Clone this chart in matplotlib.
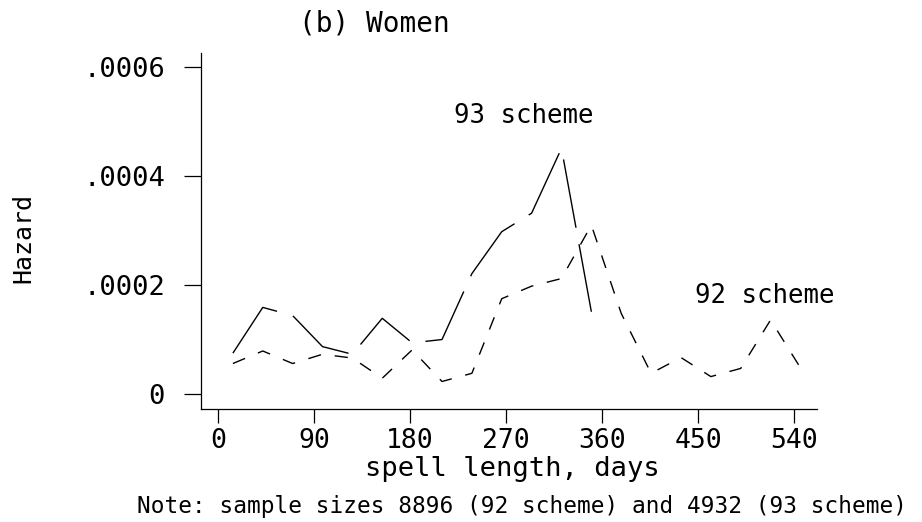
import numpy as np
import matplotlib
matplotlib.use('Agg')
from matplotlib import pyplot as plt
from matplotlib.ticker import FixedLocator, FixedFormatter

# hazard by spell length (days), 4-week intervals
days93 = [14, 42, 70, 98, 126, 154, 182, 210, 238, 266, 294, 322, 350]
hazard93 = [0.000075, 0.000159, 0.000144, 0.000087, 0.000073, 0.000139, 0.000094,
            0.000100, 0.000221, 0.000298, 0.000332, 0.000451, 0.000151]

days92 = [14, 42, 70, 98, 126, 154, 182, 210, 238, 266, 294, 322, 350,
          378, 406, 434, 462, 490, 518, 546]
hazard92 = [0.000056, 0.000079, 0.000056, 0.000073, 0.000066, 0.000029, 0.000081,
            0.000023, 0.000038, 0.000175, 0.000198, 0.000212, 0.000310,
            0.000148, 0.000038, 0.000067, 0.000032, 0.000047, 0.000136, 0.000048]

xticks = [0, 90, 180, 270, 360, 450, 540]
yticks = [0, 0.0002, 0.0004, 0.0006]
ytick_labels = ['0', '.0002', '.0004', '.0006']

plt.rcParams['font.family'] = 'DejaVu Sans Mono'

fig = plt.figure(figsize=(9.22, 5.22), dpi=100)
ax = fig.add_axes([201/922, 1-409/522, 616/922, 356/522])

ax.plot(days93, hazard93, color='black', lw=1.0, linestyle=(0, (50, 12)))
ax.plot(days92, hazard92, color='black', lw=1.0, linestyle=(0, (9.5, 10)))

ax.set_xlim(-15.9, 561.5)
ax.set_ylim(-0.0000275, 0.000626)

ax.spines['top'].set_visible(False)
ax.spines['right'].set_visible(False)
for s in ['left', 'bottom']:
    ax.spines[s].set_linewidth(0.9)

ax.xaxis.set_major_locator(FixedLocator(xticks))
ax.yaxis.set_major_locator(FixedLocator(yticks))
ax.yaxis.set_major_formatter(FixedFormatter(ytick_labels))
ax.tick_params(axis='y', direction='out', length=12, width=0.9, pad=14, labelsize=19.5)
ax.tick_params(axis='x', direction='out', length=10, width=0.9, pad=4, labelsize=19)

ax.text(286.9, 0.000497, '93 scheme', ha='center', va='baseline', fontsize=18.5)
ax.text(512.8, 0.000167, '92 scheme', ha='center', va='baseline', fontsize=18.5)

fig.text(374/922, 1-24/522, '(b) Women', ha='center', va='center', fontsize=20)
fig.text(23/922, 1-238/522, 'Hazard', ha='center', va='center', rotation=90, fontsize=18)
fig.text(512/922, 1-476/522, 'spell length, days', ha='center', va='baseline', fontsize=19.5)
fig.text(137/922, 1-513/522, 'Note: sample sizes 8896 (92 scheme) and 4932 (93 scheme)',
         ha='left', va='baseline', fontsize=16.4)

fig.savefig('out.png', dpi=100)
